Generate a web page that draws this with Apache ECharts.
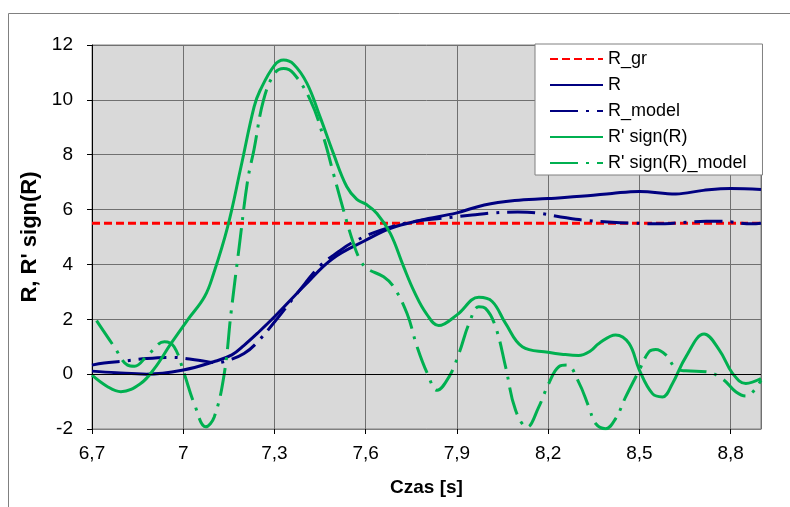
<!DOCTYPE html>
<html>
<head>
<meta charset="utf-8">
<title>R, R' sign(R)</title>
<script src="https://cdn.jsdelivr.net/npm/echarts@6/dist/echarts.min.js"></script>
<style>
  html, body { margin: 0; padding: 0; background: #fff; }
  #chart { width: 790px; height: 507px; }
</style>
</head>
<body>
<div id="chart"></div>
<script>
// dane
const limitTime = [6.7, 8.9];
const limitValues = [5.5, 5.5];

const rTime = [6.70, 6.78, 6.88, 7.00, 7.10, 7.16, 7.20, 7.245, 7.30, 7.40, 7.49, 7.60, 7.68, 7.78, 7.90, 7.99, 8.09, 8.20, 8.33, 8.41, 8.50, 8.62, 8.71, 8.80, 8.90];
const rValues = [0.11, 0.05, 0.0, 0.15, 0.45, 0.7, 1.05, 1.5, 2.09, 3.24, 4.2, 4.88, 5.31, 5.61, 5.88, 6.17, 6.33, 6.40, 6.50, 6.59, 6.66, 6.57, 6.70, 6.77, 6.73];

const rModelTime = [6.70, 6.74, 6.80, 6.88, 6.96, 7.05, 7.11, 7.16, 7.20, 7.24, 7.30, 7.40, 7.45, 7.51, 7.56, 7.65, 7.76, 7.85, 7.95, 8.02, 8.10, 8.16, 8.26, 8.33, 8.41, 8.47, 8.57, 8.62, 8.72, 8.77, 8.87, 8.90];
const rModelValues = [0.33, 0.41, 0.47, 0.57, 0.61, 0.51, 0.42, 0.55, 0.75, 1.12, 1.9, 3.3, 3.95, 4.46, 4.82, 5.25, 5.57, 5.68, 5.8, 5.88, 5.91, 5.88, 5.7, 5.6, 5.54, 5.51, 5.48, 5.51, 5.57, 5.57, 5.48, 5.5];

const dTime = [6.70, 6.75, 6.795, 6.86, 6.905, 6.96, 7.014, 7.07, 7.10, 7.146, 7.19, 7.233, 7.253, 7.30, 7.33, 7.363, 7.407, 7.45, 7.494, 7.538, 7.571, 7.60, 7.637, 7.681, 7.725, 7.76, 7.80, 7.84, 7.90, 7.972, 8.016, 8.06, 8.115, 8.20, 8.25, 8.30, 8.34, 8.367, 8.422, 8.466, 8.50, 8.543, 8.576, 8.609, 8.653, 8.713, 8.763, 8.807, 8.85, 8.90];
const dValues = [-0.04, -0.45, -0.64, -0.34, 0.2, 1.12, 1.97, 2.82, 3.67, 5.37, 7.56, 9.74, 10.35, 11.26, 11.45, 11.3, 10.6, 9.38, 8.04, 6.83, 6.37, 6.2, 5.86, 5.13, 3.91, 3.0, 2.2, 1.77, 2.16, 2.8, 2.65, 1.85, 1.0, 0.8, 0.72, 0.68, 0.85, 1.12, 1.43, 1.12, 0.15, -0.71, -0.83, -0.34, 0.63, 1.46, 0.88, 0.02, -0.34, -0.16];

const dModelTime = [6.715, 6.773, 6.817, 6.84, 6.883, 6.938, 6.97, 7.003, 7.036, 7.074, 7.102, 7.135, 7.157, 7.184, 7.212, 7.233, 7.264, 7.30, 7.33, 7.363, 7.418, 7.461, 7.494, 7.527, 7.56, 7.582, 7.604, 7.659, 7.692, 7.736, 7.769, 7.803, 7.835, 7.874, 7.907, 7.94, 7.972, 7.994, 8.027, 8.06, 8.093, 8.131, 8.169, 8.202, 8.235, 8.262, 8.30, 8.334, 8.356, 8.389, 8.422, 8.455, 8.50, 8.532, 8.554, 8.587, 8.62, 8.653, 8.719, 8.774, 8.818, 8.85, 8.90];
const dModelValues = [1.95, 1.0, 0.33, 0.29, 0.69, 1.18, 1.0, 0.02, -1.07, -1.92, -1.56, 0.02, 2.21, 4.64, 7.07, 8.2, 9.99, 10.96, 11.14, 10.96, 9.99, 8.65, 7.31, 5.98, 4.76, 4.16, 3.85, 3.55, 3.18, 2.21, 1.0, 0.02, -0.59, -0.1, 0.76, 1.85, 2.46, 2.4, 1.73, 0.27, -1.32, -1.93, -1.2, -0.34, 0.27, 0.33, -0.28, -1.2, -1.8, -1.99, -1.62, -0.83, 0.15, 0.82, 0.9, 0.7, 0.21, 0.12, 0.09, -0.18, -0.65, -0.8, -0.22];

const seriesNames = ['R_gr', 'R', 'R_model', "R' sign(R)", "R' sign(R)_model"];

const FONT = 'Liberation Sans, Arial, sans-serif';
const NAVY = '#000080';
const GREEN = '#00b050';
const RED = '#ff0000';
const DASH_DOT = [28, 8, 3, 8];

function zip(xs, ys) {
    return xs.map((x, i) => [x, ys[i]]);
}

// liczby z przecinkiem dziesiętnym
function plNumber(v) {
    return String(Math.round(v * 10) / 10).replace('.', ',');
}

function lineSeries(name, data, color, type) {
    return {
        name: name,
        type: 'line',
        data: data,
        smooth: 0.4,
        symbol: 'none',
        lineStyle: { color: color, width: 3, type: type },
        itemStyle: { color: color }
    };
}

const chart = echarts.init(document.getElementById('chart'));

const option = {
    animation: false,
    textStyle: { fontFamily: FONT },
    graphic: [{
        type: 'rect',
        z: -10,
        shape: { x: 8.5, y: 13.5, width: 900, height: 600 },
        style: { fill: 'none', stroke: '#808080', lineWidth: 1 }
    }],
    grid: {
        left: 92, right: 29, top: 45, bottom: 78,
        show: true,
        backgroundColor: '#d9d9d9',
        borderColor: '#808080',
        borderWidth: 1
    },
    legend: {
        data: seriesNames,
        orient: 'vertical',
        left: 535,
        top: 44,
        backgroundColor: '#ffffff',
        borderColor: '#808080',
        borderWidth: 1,
        borderRadius: 0,
        padding: [6, 16, 3, 14],
        itemWidth: 53,
        itemHeight: 18,
        itemGap: 8,
        itemStyle: { opacity: 0 },
        textStyle: { fontSize: 18, color: '#000', fontFamily: FONT }
    },
    xAxis: {
        type: 'value',
        min: 6.7,
        max: 8.9,
        interval: 0.3,
        name: 'Czas [s]',
        nameLocation: 'middle',
        nameGap: 49,
        nameTextStyle: { fontSize: 19, fontWeight: 'bold', color: '#000', fontFamily: FONT },
        axisLine: { onZero: false, lineStyle: { color: '#808080' } },
        axisTick: { show: true, length: 5, lineStyle: { color: '#000' } },
        axisLabel: {
            fontSize: 19, color: '#000', margin: 15, fontFamily: FONT,
            showMaxLabel: false,
            formatter: plNumber
        },
        splitLine: { show: true, lineStyle: { color: '#707070', width: 1 } }
    },
    yAxis: {
        type: 'value',
        min: -2,
        max: 12,
        interval: 2,
        name: "R, R' sign(R)",
        nameLocation: 'middle',
        nameGap: 47,
        nameTextStyle: { fontSize: 22, fontWeight: 'bold', color: '#000', fontFamily: FONT },
        axisLine: { show: true, lineStyle: { color: '#000' } },
        axisTick: { show: true, length: 5, lineStyle: { color: '#000' } },
        axisLabel: { fontSize: 19, color: '#000', margin: 19, fontFamily: FONT, formatter: plNumber },
        splitLine: { show: true, lineStyle: { color: '#707070', width: 1 } }
    },
    series: [
        Object.assign(lineSeries(seriesNames[0], zip(limitTime, limitValues), RED, [8, 4]), {
            smooth: false,
            markLine: {
                silent: true,
                symbol: 'none',
                label: { show: false },
                lineStyle: { color: '#000', width: 1, type: 'solid' },
                data: [{ yAxis: 0 }]
            },
            z: 1
        }),
        lineSeries(seriesNames[1], zip(rTime, rValues), NAVY, 'solid'),
        lineSeries(seriesNames[2], zip(rModelTime, rModelValues), NAVY, DASH_DOT),
        lineSeries(seriesNames[3], zip(dTime, dValues), GREEN, 'solid'),
        lineSeries(seriesNames[4], zip(dModelTime, dModelValues), GREEN, DASH_DOT)
    ]
};

chart.setOption(option);
</script>
</body>
</html>
